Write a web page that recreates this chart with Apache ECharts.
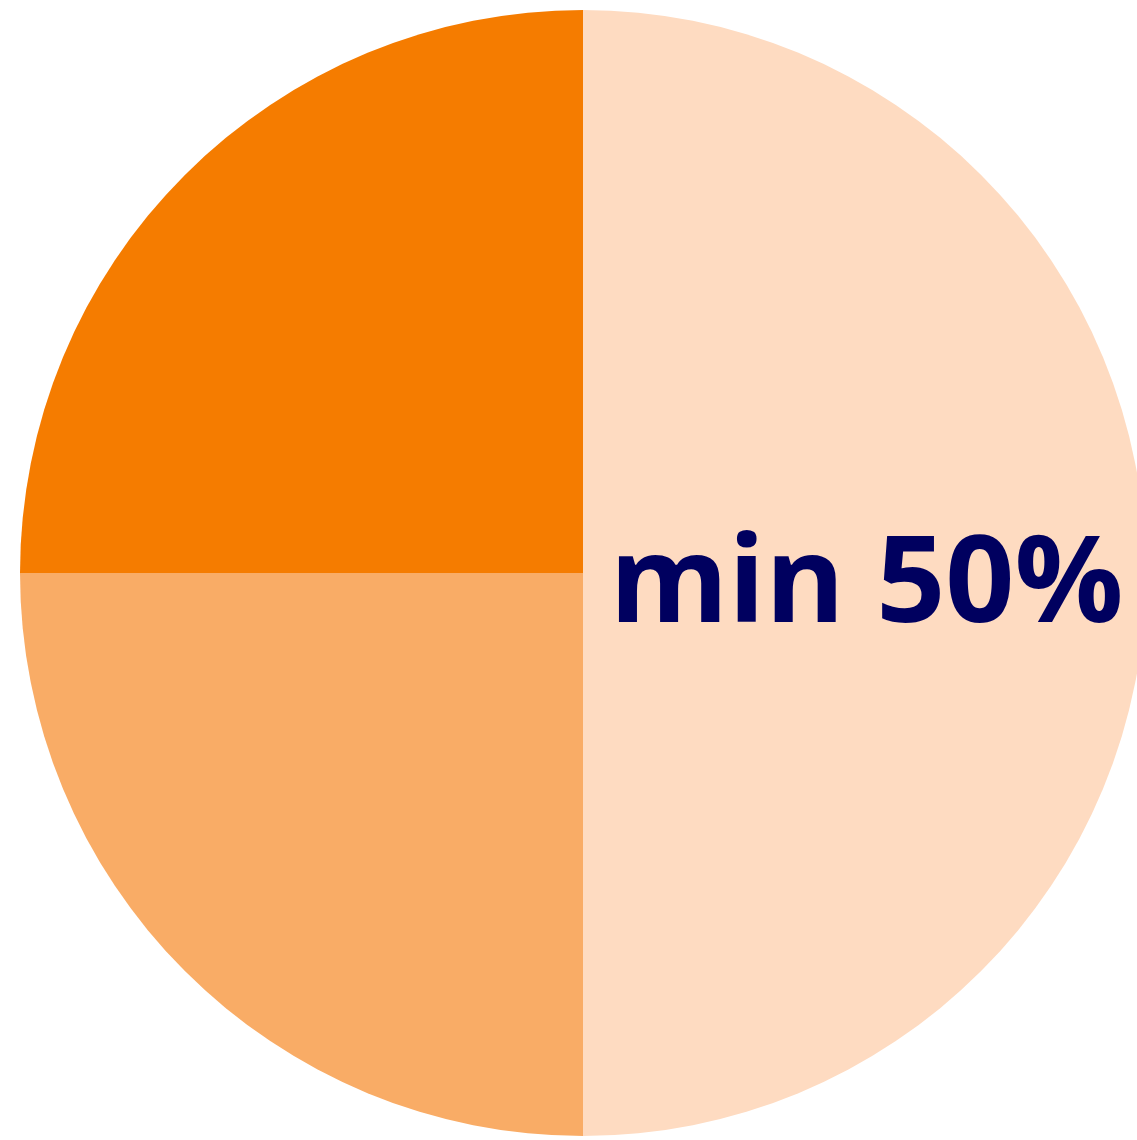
<!DOCTYPE html>
<html>
<head>
<meta charset="utf-8">
<script src="https://cdn.jsdelivr.net/npm/echarts@6/dist/echarts.min.js"></script>
<style>
html,body{margin:0;padding:0;background:#fff;}
#c{width:1137px;height:1140px;}
</style>
</head>
<body>
<div id="c"></div>
<script>
const categories = ['min', 'mid', 'max'];
const values = [50, 25, 25];
const colors = ['#FEDBC1', '#F9AC66', '#F57C00'];
const labels = ['min 50%', '', ''];

const chart = echarts.init(document.getElementById('c'), null, {renderer: 'canvas'});
chart.setOption({
  animation: false,
  series: [{
    type: 'pie',
    center: [583, 573],
    radius: [0, 563],
    startAngle: 90,
    clockwise: true,
    avoidLabelOverlap: false,
    silent: true,
    data: categories.map((n, i) => ({
      name: n,
      value: values[i],
      itemStyle: {color: colors[i], borderWidth: 0},
      label: {
        show: labels[i] !== '',
        position: 'inside',
        formatter: labels[i],
        color: '#00005F',
        fontFamily: 'Open Sans',
        fontWeight: 'bold',
        fontSize: 121,
        offset: [-1, 15]
      }
    })),
    labelLine: {show: false}
  }]
});
</script>
</body>
</html>
